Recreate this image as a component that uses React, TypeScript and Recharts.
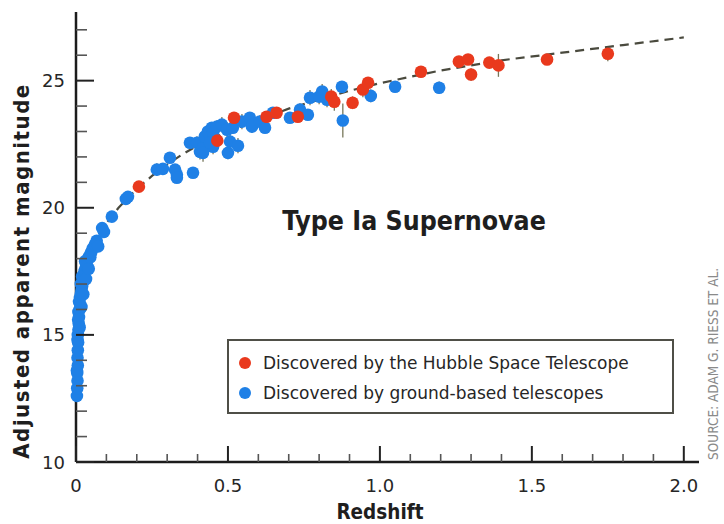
import React from 'react';
import { ScatterChart, Scatter, XAxis, YAxis, ErrorBar, Legend } from 'recharts';

// Theoretical (dashed) curve
const curveZ = [0.002, 0.004, 0.006, 0.008, 0.01, 0.015, 0.02, 0.025, 0.03, 0.04, 0.05, 0.06, 0.08, 0.1, 0.14, 0.2, 0.25, 0.3, 0.35, 0.4, 0.5, 0.6, 0.7, 0.8, 0.9, 1.0, 1.2, 1.4, 1.6, 1.8, 2.0];
const curveM = [12.6, 13.8, 14.7, 15.3, 15.7, 16.4, 16.9, 17.3, 17.6, 18.0, 18.3, 18.6, 19.0, 19.4, 20.0, 20.75, 21.25, 21.7, 22.1, 22.45, 23.0, 23.45, 23.9, 24.25, 24.6, 24.9, 25.4, 25.8, 26.1, 26.4, 26.7];

// Discovered by the Hubble Space Telescope
const hubbleZ = [0.207, 0.465, 0.52, 0.627, 0.66, 0.73, 0.84, 0.85, 0.91, 0.944, 0.961, 1.135, 1.26, 1.29, 1.3, 1.36, 1.39, 1.55, 1.75];
const hubbleM = [20.83, 22.64, 23.54, 23.58, 23.74, 23.58, 24.37, 24.17, 24.13, 24.65, 24.92, 25.35, 25.75, 25.83, 25.24, 25.71, 25.6, 25.83, 26.06];
const hubbleErr = [0.2, 0.3, 0.2, 0.2, 0.15, 0.2, 0.3, 0.35, 0.25, 0.3, 0.2, 0.2, 0.15, 0.2, 0.25, 0.2, 0.45, 0.15, 0.3];

// Discovered by ground-based telescopes
const groundZ = [
  0.003, 0.004, 0.005, 0.004, 0.006, 0.005, 0.006, 0.007, 0.006, 0.008, 0.009, 0.01, 0.008, 0.012, 0.014, 0.013,
  0.016, 0.018, 0.02, 0.022, 0.024, 0.026, 0.028, 0.031, 0.034, 0.036, 0.04, 0.044, 0.05, 0.055, 0.062, 0.068,
  0.016, 0.01, 0.02, 0.03, 0.005, 0.003, 0.007, 0.073, 0.086, 0.092, 0.118, 0.164, 0.171,
  0.266, 0.286, 0.309, 0.326, 0.332, 0.332, 0.385, 0.375, 0.398, 0.408, 0.418, 0.424, 0.434, 0.447, 0.451, 0.464,
  0.48, 0.451, 0.418, 0.441, 0.497, 0.5, 0.507, 0.533, 0.516, 0.546, 0.572, 0.579, 0.582, 0.605, 0.622, 0.648,
  0.704, 0.737, 0.763, 0.77, 0.8, 0.81, 0.826, 0.878, 0.875, 0.97, 1.05, 1.195,
  0.024, 0.033, 0.042, 0.047, 0.012, 0.018,
];
const groundM = [
  12.6, 12.9, 13.2, 13.5, 13.8, 14.1, 14.4, 14.7, 15.0, 15.2, 15.45, 15.7, 15.9, 16.0, 16.2, 16.45,
  16.6, 16.75, 16.9, 17.05, 17.2, 17.35, 17.5, 17.6, 17.75, 17.9, 18.0, 18.1, 18.25, 18.4, 18.55, 18.7,
  17.0, 16.3, 17.3, 17.9, 14.8, 13.6, 15.6, 18.48, 19.2, 19.05, 19.65, 20.35, 20.43,
  21.5, 21.53, 21.97, 21.5, 21.3, 21.18, 21.38, 22.56, 22.56, 22.2, 22.36, 22.8, 23.0, 23.15, 22.95, 23.19,
  23.27, 22.4, 22.16, 22.56, 23.07, 22.16, 22.6, 22.44, 23.15, 23.39, 23.54, 23.19, 23.27, 23.39, 23.15, 23.74,
  23.54, 23.86, 23.66, 24.33, 24.37, 24.57, 24.25, 23.43, 24.76, 24.4, 24.76, 24.72,
  16.6, 17.2, 17.6, 18.05, 15.3, 16.1,
];
const groundErr = [
  0, 0, 0, 0, 0, 0, 0, 0, 0, 0, 0, 0, 0, 0, 0, 0,
  0, 0, 0, 0, 0, 0, 0, 0, 0, 0, 0, 0, 0, 0, 0, 0,
  0, 0, 0, 0, 0, 0, 0, 0, 0.15, 0, 0, 0.15, 0,
  0.25, 0.2, 0.15, 0.2, 0.2, 0.2, 0.15, 0.2, 0.25, 0.3, 0.3, 0.25, 0.3, 0.2, 0.3, 0.25,
  0.3, 0.3, 0.35, 0.2, 0.3, 0.25, 0.3, 0.3, 0.25, 0.3, 0.2, 0.25, 0.2, 0.25, 0.2, 0.2,
  0.2, 0.25, 0.2, 0.3, 0.3, 0.3, 0.3, 0.67, 0.2, 0.25, 0.2, 0.25,
  0, 0, 0, 0, 0, 0,
];

const xTicks = [0, 0.1, 0.2, 0.3, 0.4, 0.5, 0.6, 0.7, 0.8, 0.9, 1.0, 1.1, 1.2, 1.3, 1.4, 1.5, 1.6, 1.7, 1.8, 1.9, 2.0];
const xLabelValues = [0, 0.5, 1.0, 1.5, 2.0];
const xLabelTexts = ['0', '0.5', '1.0', '1.5', '2.0'];
const yTicks = [10, 11, 12, 13, 14, 15, 16, 17, 18, 19, 20, 21, 22, 23, 24, 25, 26, 27];
const yLabelValues = [10, 15, 20, 25];
const yLabelTexts = ['10', '15', '20', '25'];

const seriesNames = ['Discovered by the Hubble Space Telescope', 'Discovered by ground-based telescopes'];
const RED = '#e9391d';
const BLUE = '#1f80e6';
const TEXT = '#262626';
const FONT = '"DejaVu Sans", sans-serif';
const FONT_BOLD = '"DejaVu Sans Condensed", "DejaVu Sans", sans-serif';

const curve = curveZ.map((z, i) => ({ z, m: curveM[i] }));
const hubble = hubbleZ.map((z, i) => ({ z, m: hubbleM[i], err: hubbleErr[i] }));
const ground = groundZ.map((z, i) => ({ z, m: groundM[i], err: groundErr[i] }));

const XTick = (props: any) => {
  const { x, y, payload } = props;
  const v = payload.value;
  const idx = xLabelValues.findIndex((l) => Math.abs(l - v) < 1e-6);
  const major = idx >= 0;
  return (
    <g>
      <line x1={x} x2={x} y1={y} y2={y - (major ? 16 : 8)} stroke={major ? '#222' : '#555'} strokeWidth={major ? 2 : 1.6} />
      {major && (
        <text x={x} y={y + 30} textAnchor="middle" fontSize={18} fill={TEXT} fontFamily={FONT}>
          {xLabelTexts[idx]}
        </text>
      )}
    </g>
  );
};

const YTick = (props: any) => {
  const { x, y, payload } = props;
  const v = payload.value;
  const idx = yLabelValues.findIndex((l) => Math.abs(l - v) < 1e-6);
  const major = idx >= 0;
  return (
    <g>
      <line x1={x} x2={x + (major ? 18 : 11)} y1={y} y2={y} stroke={major ? '#222' : '#555'} strokeWidth={major ? 2 : 1.6} />
      {major && (
        <text x={x - 11} y={y + 6.5} textAnchor="end" fontSize={18} fill={TEXT} fontFamily={FONT}>
          {yLabelTexts[idx]}
        </text>
      )}
    </g>
  );
};

const dotShape = (color: string) => (p: any) => <circle cx={p.cx} cy={p.cy} r={6.3} fill={color} />;
const noShape = () => <g />;

const LegendBox = () => (
  <div
    style={{
      boxSizing: 'border-box',
      width: 447,
      height: 75,
      border: '2px solid #4f4f47',
      background: '#fff',
    }}
  >
    <svg width={443} height={71} style={{ display: 'block' }}>
      {[RED, BLUE].map((c, i) => (
        <g key={i}>
          <circle cx={16} cy={22 + i * 30} r={6} fill={c} />
          <text x={34} y={28 + i * 30} fontSize={17} fill={TEXT} fontFamily={FONT}>
            {seriesNames[i]}
          </text>
        </g>
      ))}
    </svg>
  </div>
);

export default function App() {
  return (
    <div style={{ position: 'absolute', left: 0, top: 0, width: 724, height: 524, background: '#fff' }}>
      <ScatterChart width={724} height={524} margin={{ top: 12, right: 25, bottom: 22, left: 26 }}>
        <XAxis
          type="number"
          dataKey="z"
          domain={[0, 2.05]}
          ticks={xTicks}
          interval={0}
          height={40}
          tickSize={0}
          tickMargin={0}
          tickLine={false}
          axisLine={{ stroke: '#1c1c1c', strokeWidth: 2.5 }}
          tick={XTick}
        />
        <YAxis
          type="number"
          dataKey="m"
          domain={[10, 27.7]}
          ticks={yTicks}
          interval={0}
          width={50}
          tickSize={0}
          tickMargin={0}
          tickLine={false}
          axisLine={{ stroke: '#1c1c1c', strokeWidth: 2.5 }}
          tick={YTick}
        />
        <Scatter
          data={curve}
          line={{ stroke: '#4a4a3e', strokeWidth: 2.2, strokeDasharray: '9 6' }}
          shape={noShape}
          legendType="none"
          isAnimationActive={false}
        />
        <Scatter name={seriesNames[1]} data={ground} fill={BLUE} shape={dotShape(BLUE)} isAnimationActive={false}>
          <ErrorBar dataKey="err" direction="y" width={0} stroke="#77775a" strokeWidth={1.3} />
        </Scatter>
        <Scatter name={seriesNames[0]} data={hubble} fill={RED} shape={dotShape(RED)} isAnimationActive={false}>
          <ErrorBar dataKey="err" direction="y" width={0} stroke="#77775a" strokeWidth={1.3} />
        </Scatter>
        <Legend
          layout="vertical"
          align="center"
          verticalAlign="middle"
          wrapperStyle={{ left: 227, top: 339, width: 447, height: 75 }}
          content={() => <LegendBox />}
        />
      </ScatterChart>
      <svg
        width={724}
        height={524}
        style={{ position: 'absolute', left: 0, top: 0, pointerEvents: 'none' }}
      >
        <text x={414} y={230} textAnchor="middle" fontSize={26.5} fontWeight="bold" fill="#1e1e1e" fontFamily={FONT_BOLD}>
          Type Ia Supernovae
        </text>
        <text x={380} y={519} textAnchor="middle" fontSize={20.5} fontWeight="bold" fill="#1e1e1e" fontFamily={FONT_BOLD}>
          Redshift
        </text>
        <text
          transform="translate(29,271) rotate(-90)"
          textAnchor="middle"
          fontSize={22}
          fontWeight="bold"
          letterSpacing={1.5}
          fill="#1e1e1e"
          fontFamily={FONT_BOLD}
        >
          Adjusted apparent magnitude
        </text>
        <text
          transform="translate(718,460) rotate(-90)"
          textAnchor="start"
          fontSize={13.5}
          fill="#8a8a8a"
          fontFamily={FONT_BOLD}
        >
          SOURCE: ADAM G. RIESS ET AL.
        </text>
      </svg>
    </div>
  );
}
